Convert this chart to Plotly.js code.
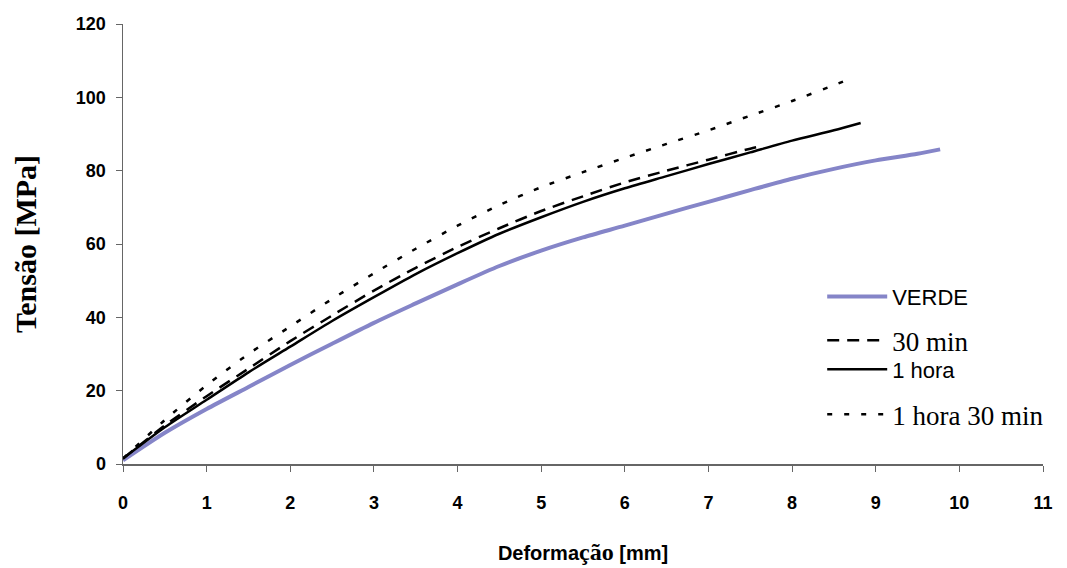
<!DOCTYPE html>
<html>
<head>
<meta charset="utf-8">
<script src="https://cdn.plot.ly/plotly-3.0.1.min.js"></script>
<style>html,body{margin:0;padding:0;background:#fff;}#chart{width:1067px;height:568px;}</style>
</head>
<body>
<div id="chart"></div>
<script>
// Deformação [mm] (x) vs Tensão [MPa] (y)
const verdeX = [0, 0.5, 1, 1.5, 2, 2.5, 3, 3.5, 4, 4.5, 5, 5.5, 6, 6.5, 7, 7.5, 8, 8.5, 9, 9.5, 9.77];
const verdeY = [1, 8.5, 15, 21, 27, 32.8, 38.5, 43.8, 49, 54, 58.2, 61.8, 65, 68.3, 71.5, 74.7, 77.8, 80.5, 82.8, 84.6, 85.8];

const min30X = [0, 0.5, 1, 1.5, 2, 2.5, 3, 3.5, 4, 4.5, 5, 5.5, 6, 6.5, 7, 7.5, 7.66];
const min30Y = [1.5, 10.5, 18.5, 26, 33.5, 40.5, 47.3, 53.5, 59.2, 64.3, 69, 73, 76.8, 80, 83, 86, 86.8];

const hora1X = [0, 0.5, 1, 1.5, 2, 2.5, 3, 3.5, 4, 4.5, 5, 5.5, 6, 6.5, 7, 7.5, 8, 8.5, 8.82];
const hora1Y = [1.5, 10, 17.5, 25, 32, 39, 45.5, 51.8, 57.5, 62.8, 67.3, 71.5, 75.2, 78.5, 81.8, 85, 88.2, 91, 93];

const hora130X = [0, 0.5, 1, 1.5, 2, 2.5, 3, 3.5, 4, 4.5, 5, 5.5, 6, 6.5, 7, 7.5, 8, 8.5, 8.63];
const hora130Y = [1.5, 12, 21.5, 30, 37.5, 45, 52, 58.7, 65, 70.6, 75.5, 79.6, 83.5, 87.3, 91, 95, 99, 103.3, 104.5];

const seriesNames = ['VERDE', '30 min', '1 hora', '1 hora 30 min'];
const xTicks = [0, 1, 2, 3, 4, 5, 6, 7, 8, 9, 10, 11];
const yTicks = [0, 20, 40, 60, 80, 100, 120];

const sans = 'Liberation Sans, Arial, sans-serif';
const serif = 'Liberation Serif, Times New Roman, serif';

const traces = [
  {x: verdeX, y: verdeY, name: seriesNames[0], mode: 'lines', line: {color: '#8585c8', width: 4, shape: 'spline', smoothing: 0.7}, legend: 'legend'},
  {x: min30X, y: min30Y, name: seriesNames[1], mode: 'lines', line: {color: '#000', width: 2.5, dash: '12px,8px', shape: 'spline', smoothing: 0.7}, legend: 'legend2'},
  {x: hora1X, y: hora1Y, name: seriesNames[2], mode: 'lines', line: {color: '#000', width: 2.5, shape: 'spline', smoothing: 0.7}, legend: 'legend3'},
  {x: hora130X, y: hora130Y, name: seriesNames[3], mode: 'lines', line: {color: '#000', width: 2.5, dash: '5px,12px', shape: 'spline', smoothing: 0.7}, legend: 'legend4'}
];

function leg(y, fam, size) {
  return {x: 0.76, y: y, xanchor: 'left', yanchor: 'middle', bgcolor: 'rgba(0,0,0,0)',
          font: {family: fam, size: size, color: '#000'}, itemwidth: 60, tracegroupgap: 0};
}

const layout = {
  width: 1067, height: 568,
  margin: {l: 123, r: 24, t: 24, b: 104},
  paper_bgcolor: '#fff', plot_bgcolor: '#fff',
  showlegend: true,
  legend: leg(0.38, sans, 22),
  legend2: leg(0.28, serif, 27),
  legend3: leg(0.215, sans, 22),
  legend4: leg(0.112, serif, 27),
  xaxis: {
    range: [0, 11], tickvals: xTicks, ticktext: xTicks.map(String),
    showgrid: false, zeroline: false, showline: true, linecolor: '#666', linewidth: 1.5,
    ticks: 'outside', ticklen: 6, tickcolor: '#666', ticklabelstandoff: 16,
    tickfont: {family: sans, size: 18, color: '#000', weight: 'bold'},
    title: {text: 'Deforma<span style="font-family:Liberation Serif;font-size:24px">ção</span> [mm]', standoff: 34,
            font: {family: sans, size: 20, color: '#000', weight: 'bold'}}
  },
  yaxis: {
    range: [0, 120], tickvals: yTicks, ticktext: yTicks.map(String),
    showgrid: false, zeroline: false, showline: true, linecolor: '#666', linewidth: 1.5,
    ticks: 'outside', ticklen: 6, tickcolor: '#666', ticklabelstandoff: 6,
    tickfont: {family: sans, size: 18, color: '#000', weight: 'bold'},
    title: {text: 'Tensão [MPa]', standoff: 30,
            font: {family: serif, size: 30, color: '#000', weight: 'bold'}}
  }
};

Plotly.newPlot('chart', traces, layout, {displayModeBar: false, staticPlot: true});
</script>
</body>
</html>
